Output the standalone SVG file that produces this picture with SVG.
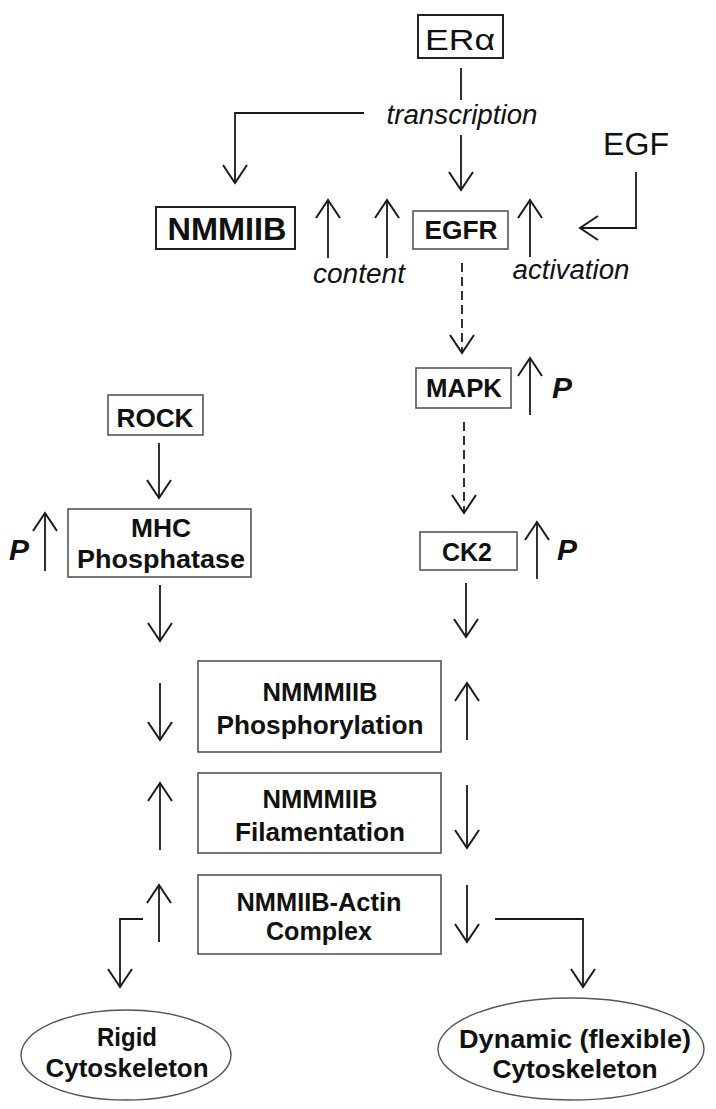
<svg xmlns="http://www.w3.org/2000/svg" width="716" height="1109" viewBox="0 0 716 1109">
<defs>
<marker id="ah" markerUnits="userSpaceOnUse" viewBox="-20 -14 22 28" refX="0" refY="0" markerWidth="22" markerHeight="28" orient="auto" overflow="visible">
<path d="M-18,-12 L0,0 L-18,12" fill="none" stroke="#1a1a1a" stroke-width="2"/>
</marker>
<style>
text{font-family:"Liberation Sans",Arial,sans-serif;fill:#111;}
.b{font-weight:bold;font-size:26px;text-anchor:middle;}
.it{font-style:italic;font-size:27px;}
.p{font-weight:bold;font-style:italic;font-size:30px;}
.box{fill:#fff;stroke:#555;stroke-width:1.6;}
.box2{fill:#fff;stroke:#222;stroke-width:2;}
.ell{fill:#fff;stroke:#555;stroke-width:1.4;}
.ln{fill:none;stroke:#1a1a1a;stroke-width:1.8;}
.ar{fill:none;stroke:#1a1a1a;stroke-width:1.8;marker-end:url(#ah);}
.da{fill:none;stroke:#1a1a1a;stroke-width:1.8;stroke-dasharray:9 5;marker-end:url(#ah);}
</style>
</defs>
<g id="connectors">
<line class="ln" x1="461" y1="68" x2="461" y2="100"/>
<polyline class="ar" points="364,113 235,113 235,183"/>
<line class="ar" x1="461" y1="135" x2="461" y2="190"/>
<polyline class="ar" points="636,172 636,228 580,228"/>
<line class="ar" x1="328" y1="258" x2="328" y2="200"/>
<line class="ar" x1="387" y1="258" x2="387" y2="200"/>
<line class="ar" x1="530" y1="257" x2="530" y2="200"/>
<line class="da" x1="462" y1="263" x2="462" y2="353"/>
<line class="ar" x1="530" y1="415" x2="530" y2="358"/>
<line class="da" x1="464" y1="422" x2="464" y2="513"/>
<line class="ar" x1="537" y1="579" x2="537" y2="522"/>
<line class="ar" x1="159" y1="443" x2="159" y2="498"/>
<line class="ar" x1="45" y1="571" x2="45" y2="513"/>
<line class="ar" x1="160" y1="585" x2="160" y2="641"/>
<line class="ar" x1="466" y1="583" x2="466" y2="637"/>
<line class="ar" x1="160" y1="683" x2="160" y2="740"/>
<line class="ar" x1="467" y1="740" x2="467" y2="683"/>
<line class="ar" x1="160" y1="850" x2="160" y2="783"/>
<line class="ar" x1="467" y1="785" x2="467" y2="848"/>
<line class="ar" x1="159" y1="942" x2="159" y2="885"/>
<line class="ar" x1="467" y1="885" x2="467" y2="942"/>
<polyline class="ar" points="143,919 120,919 120,987"/>
<polyline class="ar" points="495,919 583,919 583,987"/>
</g>
<g id="labels">
<text class="it" x="462" y="124" text-anchor="middle" textLength="151" lengthAdjust="spacingAndGlyphs">transcription</text>
<text class="it" x="359" y="283" text-anchor="middle" textLength="92" lengthAdjust="spacingAndGlyphs">content</text>
<text class="it" x="571" y="279" text-anchor="middle" textLength="117" lengthAdjust="spacingAndGlyphs">activation</text>
<text class="p" x="552" y="398">P</text>
<text class="p" x="557" y="560">P</text>
<text class="p" x="9" y="560">P</text>
</g>
<g id="era">
<rect class="box2" x="418" y="15" width="85" height="43"/>
<text x="460" y="50" font-size="30" text-anchor="middle" textLength="70" lengthAdjust="spacingAndGlyphs">ERα</text>
</g>
<g id="egf">
<text x="636" y="155" font-size="32" text-anchor="middle" textLength="66" lengthAdjust="spacingAndGlyphs">EGF</text>
</g>
<g id="nmmiib">
<rect class="box2" x="156" y="207" width="139" height="42"/>
<text x="227" y="240" font-size="32" font-weight="bold" text-anchor="middle" textLength="119" lengthAdjust="spacingAndGlyphs">NMMIIB</text>
</g>
<g id="egfr">
<rect class="box" x="413" y="211" width="95" height="38"/>
<text class="b" x="461" y="239" textLength="73" lengthAdjust="spacingAndGlyphs">EGFR</text>
</g>
<g id="mapk">
<rect class="box" x="416" y="368" width="95" height="40"/>
<text class="b" x="464" y="397" textLength="76" lengthAdjust="spacingAndGlyphs">MAPK</text>
</g>
<g id="ck2">
<rect class="box" x="420" y="532" width="97" height="38"/>
<text class="b" x="467" y="561" textLength="50" lengthAdjust="spacingAndGlyphs">CK2</text>
</g>
<g id="rock">
<rect class="box" x="108" y="395" width="95" height="40"/>
<text class="b" x="155" y="427" textLength="77" lengthAdjust="spacingAndGlyphs">ROCK</text>
</g>
<g id="mhc">
<rect class="box" x="68" y="509" width="183" height="68"/>
<text class="b" x="161" y="537" textLength="60" lengthAdjust="spacingAndGlyphs">MHC</text>
<text class="b" x="161" y="568" textLength="168" lengthAdjust="spacingAndGlyphs">Phosphatase</text>
</g>
<g id="phos">
<rect class="box" x="198" y="661" width="243" height="91"/>
<text class="b" x="320" y="701" textLength="115" lengthAdjust="spacingAndGlyphs">NMMMIIB</text>
<text class="b" x="320" y="734" textLength="207" lengthAdjust="spacingAndGlyphs">Phosphorylation</text>
</g>
<g id="fil">
<rect class="box" x="198" y="773" width="243" height="80"/>
<text class="b" x="320" y="808" textLength="115" lengthAdjust="spacingAndGlyphs">NMMMIIB</text>
<text class="b" x="320" y="841" textLength="170" lengthAdjust="spacingAndGlyphs">Filamentation</text>
</g>
<g id="complex">
<rect class="box" x="198" y="875" width="243" height="79"/>
<text class="b" x="319" y="911" textLength="165" lengthAdjust="spacingAndGlyphs">NMMIIB-Actin</text>
<text class="b" x="319" y="940" textLength="106" lengthAdjust="spacingAndGlyphs">Complex</text>
</g>
<g id="rigid">
<ellipse class="ell" cx="126" cy="1055" rx="105" ry="45"/>
<text class="b" x="127" y="1046" textLength="60" lengthAdjust="spacingAndGlyphs">Rigid</text>
<text class="b" x="127" y="1077" textLength="163" lengthAdjust="spacingAndGlyphs">Cytoskeleton</text>
</g>
<g id="dynamic">
<ellipse class="ell" cx="571" cy="1049" rx="133" ry="51"/>
<text class="b" x="575" y="1048" textLength="232" lengthAdjust="spacingAndGlyphs">Dynamic (flexible)</text>
<text class="b" x="575" y="1078" textLength="165" lengthAdjust="spacingAndGlyphs">Cytoskeleton</text>
</g>
</svg>
